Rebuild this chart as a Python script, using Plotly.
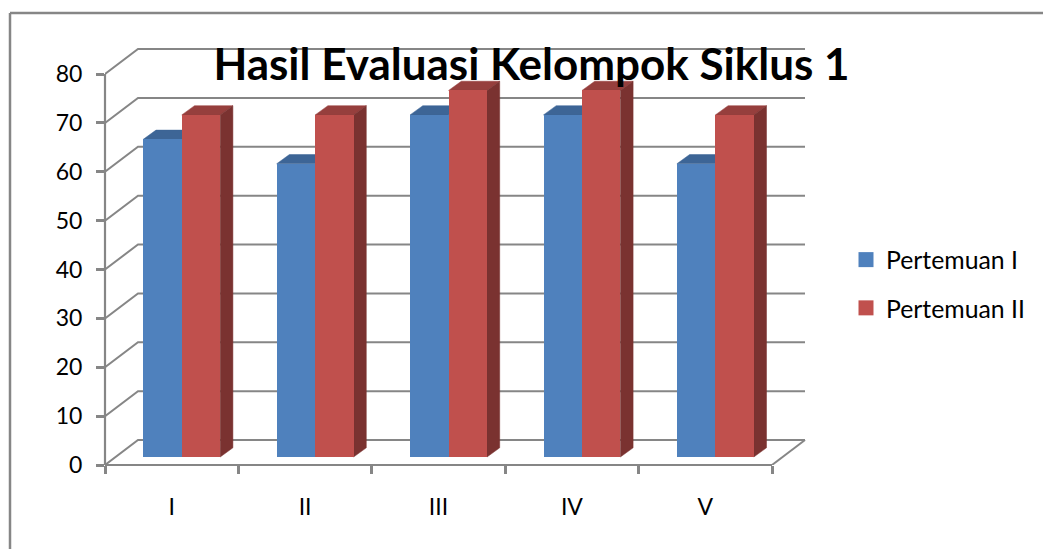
import plotly.graph_objects as go

categories = ["I", "II", "III", "IV", "V"]
pertemuan_1 = [65, 60, 70, 70, 60]
pertemuan_2 = [70, 70, 75, 75, 70]
y_ticks = [0, 10, 20, 30, 40, 50, 60, 70, 80]

TITLE = "Hasil Evaluasi Kelompok Siklus 1"
FONT = "Lato, Carlito, Calibri, sans-serif"
GRID = "#868686"
BLUE, BLUE_TOP = "#4F81BD", "#3D6596"
RED, RED_TOP, RED_SIDE = "#C0504D", "#963F3D", "#7A3230"

W, H = 1043, 549
L, R, T, B = 105, 806, 46, 465      # plot area in pixels
PX_X = (772 - 105) / 5              # pixels per category
PX_Y = (465 - 74) / 80              # pixels per value unit
n = len(categories)
WALL_DX, WALL_DY = 33 / PX_X, 25 / PX_Y
BAR_W = 38.4 / PX_X
BAR_BASE = 8 / PX_Y
DEPTH_DX, DEPTH_DY = 12.7 / PX_X, 9.2 / PX_Y
OFF_1, OFF_2 = (162.5 - 105) / PX_X - 0.5, (201 - 105) / PX_X - 0.5
pos = list(range(n))


def paper_x(px):
    return (px - L) / (R - L)


def paper_y(px):
    return (B - px) / (B - T)


fig = go.Figure()


def line(xs, ys):
    fig.add_trace(go.Scatter(x=xs, y=ys, mode="lines", cliponaxis=False,
                             line=dict(color=GRID, width=2), hoverinfo="skip",
                             showlegend=False))


def poly(xs, ys, color):
    fig.add_trace(go.Scatter(x=xs, y=ys, mode="lines", fill="toself", fillcolor=color,
                             line=dict(color=color, width=0.5), cliponaxis=False,
                             hoverinfo="skip", showlegend=False))


# back wall and floor
for v in y_ticks:
    line([0, WALL_DX, n + WALL_DX], [v, v + WALL_DY, v + WALL_DY])
line([n, n + WALL_DX], [0, WALL_DY])

# depth faces of the bars
for p, v in zip(pos, pertemuan_1):
    c = p + 0.5 + OFF_1
    t = v + BAR_BASE
    a, b = c - BAR_W / 2, c + BAR_W / 2
    poly([a, b, b + DEPTH_DX, a + DEPTH_DX, a], [t, t, t + DEPTH_DY, t + DEPTH_DY, t], BLUE_TOP)
for p, v in zip(pos, pertemuan_2):
    c = p + 0.5 + OFF_2
    t = v + BAR_BASE
    a, b = c - BAR_W / 2, c + BAR_W / 2
    poly([a, b, b + DEPTH_DX, a + DEPTH_DX, a], [t, t, t + DEPTH_DY, t + DEPTH_DY, t], RED_TOP)
    poly([b, b + DEPTH_DX, b + DEPTH_DX, b, b],
         [BAR_BASE, BAR_BASE + DEPTH_DY, t + DEPTH_DY, t, BAR_BASE], RED_SIDE)

# front faces, on an overlaid copy of the axes so they cover the depth faces
for name, vals, off, col in [("Pertemuan I", pertemuan_1, OFF_1, BLUE),
                             ("Pertemuan II", pertemuan_2, OFF_2, RED)]:
    fig.add_trace(go.Bar(x=[p + 0.5 + off for p in pos], y=vals, base=BAR_BASE, width=BAR_W,
                         marker=dict(color=col, line=dict(width=0)), name=name,
                         customdata=categories, xaxis="x2", yaxis="y2", showlegend=False,
                         hovertemplate="%{customdata}: %{y}<extra>" + name + "</extra>"))
    fig.add_trace(go.Scatter(x=[None], y=[None], mode="markers", name=name, legendgroup=name,
                             marker=dict(symbol="square", size=15, color=col)))

x_range = [0, (R - L) / PX_X]
y_range = [0, (B - T) / PX_Y]
AXIS_LINE = dict(color=GRID, width=2.2)
fig.update_layout(
    width=W, height=H, autosize=False,
    margin=dict(l=L, r=W - R, t=T, b=H - B, pad=0),
    paper_bgcolor="white", plot_bgcolor="white",
    font=dict(family=FONT, color="black"),
    barmode="overlay", bargap=0,
    title=dict(text=TITLE, x=531.5 / W, y=1 - 65 / H, xanchor="center", yanchor="middle",
               xref="container", yref="container",
               font=dict(family=FONT, size=44, color="black", weight="bold")),
    xaxis=dict(range=x_range, showgrid=False, zeroline=False, showline=False,
               tickmode="array", tickvals=[p + 0.5 for p in pos], ticktext=categories,
               ticks="", ticklabelstandoff=26, tickfont=dict(size=23),
               minor=dict(tickmode="array", tickvals=list(range(n + 1)), ticks="outside",
                          ticklen=8, tickwidth=2.5, tickcolor=GRID, showgrid=False)),
    yaxis=dict(range=y_range, showgrid=False, zeroline=False, showline=False,
               tickmode="array", tickvals=y_ticks, ticks="outside", ticklen=8, tickwidth=2.5,
               tickcolor=GRID, tickfont=dict(size=23), ticklabelstandoff=9),
    xaxis2=dict(overlaying="x", matches="x", visible=False),
    yaxis2=dict(overlaying="y", matches="y", visible=False),
    legend=dict(x=paper_x(846), y=paper_y(284), xanchor="left", yanchor="middle",
                font=dict(size=24.8), tracegroupgap=13, itemclick=False, itemdoubleclick=False,
                bgcolor="rgba(0,0,0,0)"),
    shapes=[
        dict(type="line", xref="paper", yref="paper", x0=paper_x(10), x1=paper_x(W),
             y0=paper_y(13), y1=paper_y(13), line=dict(color=GRID, width=2.5), layer="below"),
        dict(type="line", xref="paper", yref="paper", x0=paper_x(10), x1=paper_x(10),
             y0=paper_y(13), y1=paper_y(H), line=dict(color=GRID, width=2.5), layer="below"),
        dict(type="line", xref="paper", yref="paper", x0=paper_x(L), x1=paper_x(L),
             y0=paper_y(74), y1=paper_y(B), line=AXIS_LINE, layer="below"),
        dict(type="line", xref="paper", yref="paper", x0=paper_x(L), x1=paper_x(772),
             y0=paper_y(B), y1=paper_y(B), line=AXIS_LINE, layer="below"),
    ],
)

fig.write_html("out.html", config={"displayModeBar": False},
               post_script="document.body.style.margin='0';document.body.style.overflow='hidden';window.dispatchEvent(new Event('resize'));")
